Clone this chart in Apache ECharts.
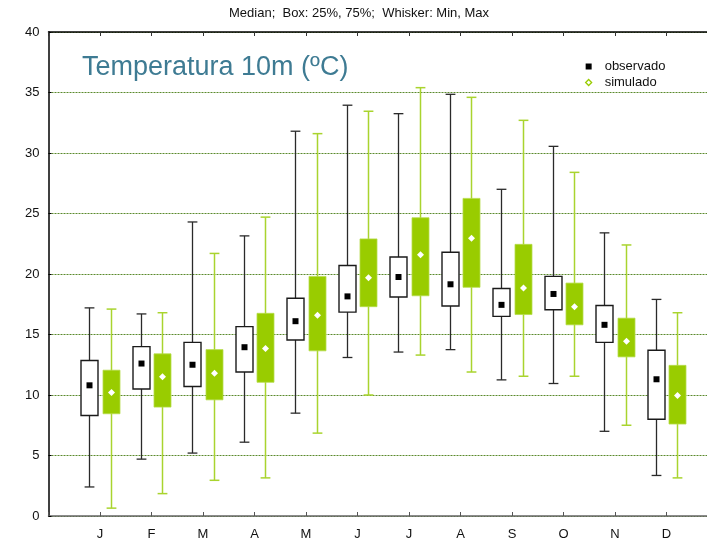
<!DOCTYPE html>
<html>
<head>
<meta charset="utf-8">
<script src="https://cdn.jsdelivr.net/npm/echarts@6/dist/echarts.min.js"></script>
<style>html,body{margin:0;padding:0;background:#fff;}#c{width:707px;height:539px;}</style>
</head>
<body>
<div id="c"></div>
<script>
const months = ['J','F','M','A','M','J','J','A','S','O','N','D'];
const yTicks = [0,5,10,15,20,25,30,35,40];

const obsMin = [2.4, 4.7, 5.2, 6.1, 8.5, 13.1, 13.55, 13.75, 11.25, 10.95, 7.0, 3.35];
const obsQ1  = [8.3, 10.5, 10.7, 11.9, 14.55, 16.85, 18.1, 17.35, 16.5, 17.05, 14.35, 8.0];
const obsMed = [10.8, 12.6, 12.5, 13.95, 16.1, 18.15, 19.75, 19.15, 17.45, 18.35, 15.8, 11.3];
const obsQ3  = [12.85, 14.0, 14.35, 15.65, 18.0, 20.7, 21.4, 21.8, 18.8, 19.8, 17.4, 13.7];
const obsMax = [17.2, 16.7, 24.3, 23.15, 31.8, 33.95, 33.25, 34.85, 27.0, 30.55, 23.4, 17.9];

const simMin = [0.65, 1.85, 2.95, 3.15, 6.85, 10.0, 13.3, 11.9, 11.55, 11.55, 7.5, 3.15];
const simQ1  = [8.45, 9.0, 9.6, 11.05, 13.65, 17.3, 18.2, 18.9, 16.65, 15.8, 13.15, 7.6];
const simMed = [10.2, 11.5, 11.8, 13.85, 16.6, 19.7, 21.6, 22.95, 18.85, 17.3, 14.45, 9.95];
const simQ3  = [12.05, 13.4, 13.75, 16.75, 19.8, 22.9, 24.65, 26.25, 22.45, 19.25, 16.35, 12.45];
const simMax = [17.1, 16.8, 21.7, 24.7, 31.6, 33.45, 35.4, 34.6, 32.7, 28.4, 22.4, 16.8];

function build(mn, q1, md, q3, mx){
  return months.map((m,i)=>[i+1, mn[i], q1[i], md[i], q3[i], mx[i]]);
}
const obsData = build(obsMin, obsQ1, obsMed, obsQ3, obsMax);
const simData = build(simMin, simQ1, simMed, simQ3, simMax);

function makeRender(kind){
  return function(params, api){
    const x = api.value(0);
    const unit = api.size([1,0])[0];
    const off = (kind==='obs' ? -0.204 : 0.204)*unit;
    const bw = 0.33*unit, capw = 0.19*unit;
    const pMin = api.coord([x, api.value(1)]);
    const pQ1 = api.coord([x, api.value(2)]);
    const pMed = api.coord([x, api.value(3)]);
    const pQ3 = api.coord([x, api.value(4)]);
    const pMax = api.coord([x, api.value(5)]);
    const cx = Math.round(pMin[0] + off) + 0.5;
    const wCol = kind==='obs' ? '#2a2a2a' : '#a9d42e';
    const lw = kind==='obs' ? 1.3 : 1.5;
    const children = [
      {type:'line', shape:{x1:cx,y1:pMin[1],x2:cx,y2:pMax[1]}, style:{stroke:wCol,lineWidth:lw}},
      {type:'line', shape:{x1:cx-capw/2,y1:pMin[1],x2:cx+capw/2,y2:pMin[1]}, style:{stroke:wCol,lineWidth:lw}},
      {type:'line', shape:{x1:cx-capw/2,y1:pMax[1],x2:cx+capw/2,y2:pMax[1]}, style:{stroke:wCol,lineWidth:lw}}
    ];
    if(kind==='obs'){
      children.push({type:'rect', shape:{x:cx-bw/2,y:pQ3[1],width:bw,height:pQ1[1]-pQ3[1]}, style:{fill:'#fff',stroke:'#1a1a1a',lineWidth:1.4}});
      children.push({type:'rect', shape:{x:cx-3,y:pMed[1]-3,width:6,height:6}, style:{fill:'#000'}});
    } else {
      children.push({type:'rect', shape:{x:cx-bw/2,y:pQ3[1],width:bw,height:pQ1[1]-pQ3[1]}, style:{fill:'#99cc00',stroke:'#b5dc4a',lineWidth:0.8}});
      children.push({type:'polygon', shape:{points:[[cx,pMed[1]-3.5],[cx+3.5,pMed[1]],[cx,pMed[1]+3.5],[cx-3.5,pMed[1]]]}, style:{fill:'#fff'}});
    }
    return {type:'group', children};
  };
}

const FONT = 'Liberation Sans, Arial, sans-serif';
const chart = echarts.init(document.getElementById('c'), null, {renderer:'canvas'});
chart.setOption({
  animation:false,
  backgroundColor:'#fff',
  textStyle:{fontFamily:FONT},
  title:[
    {text:'Median;  Box: 25%, 75%;  Whisker: Min, Max', left:229, top:7, padding:0, textStyle:{fontSize:13, fontWeight:'normal', color:'#111', fontFamily:FONT}},
    {text:'Temperatura 10m (ºC)', left:82, top:54, padding:0, textStyle:{fontSize:27, fontWeight:'normal', color:'#3e7b93', fontFamily:FONT}}
  ],
  legend:{
    orient:'vertical', left:580, top:55, itemWidth:6, itemHeight:6, itemGap:3,
    textStyle:{fontSize:13, lineHeight:13, color:'#111', fontFamily:FONT, padding:[0,0,0,8]},
    data:[
      {name:'observado', icon:'rect', itemStyle:{color:'#000', borderWidth:0}},
      {name:'simulado', icon:'diamond', itemStyle:{color:'#fff', borderColor:'#99cc00', borderWidth:1.3}}
    ]
  },
  grid:{left:48.5, top:32, width:669.5, height:484, containLabel:false, outerBoundsMode:'none'},
  xAxis:[
    {type:'value', min:0, max:13, interval:1, position:'bottom',
     axisLine:{show:true, onZero:false, lineStyle:{color:'#666', width:1.5}},
     axisTick:{show:true, inside:true, length:4, lineStyle:{color:'#555'}},
     axisLabel:{margin:12, fontSize:13, color:'#111', formatter:v=>(v>=1&&v<=12)?months[v-1]:''},
     splitLine:{show:false}},
    {type:'value', min:0, max:13, interval:1, position:'top',
     axisLine:{show:true, onZero:false, lineStyle:{color:'#000', width:1.5}},
     axisTick:{show:true, inside:true, length:4, lineStyle:{color:'#333'}},
     axisLabel:{show:false}, splitLine:{show:false}}
  ],
  yAxis:{type:'value', min:yTicks[0], max:yTicks[yTicks.length-1], interval:5,
    axisLine:{show:true, lineStyle:{color:'#000', width:1.5}},
    axisTick:{show:true, inside:true, length:3, lineStyle:{color:'#000'}},
    axisLabel:{margin:9, fontSize:13, color:'#111', formatter:v=>yTicks.includes(v)?String(v):''},
    splitLine:{show:true, lineStyle:{color:'#5b8a2c', type:[2,1], width:1}}
  },
  series:[
    {name:'observado', type:'custom', renderItem:makeRender('obs'), data:obsData, encode:{x:0, y:[1,2,3,4,5]}, itemStyle:{color:'#000'}, z:3},
    {name:'simulado', type:'custom', renderItem:makeRender('sim'), data:simData, encode:{x:0, y:[1,2,3,4,5]}, itemStyle:{color:'#99cc00'}, z:3}
  ]
});
</script>
</body>
</html>
